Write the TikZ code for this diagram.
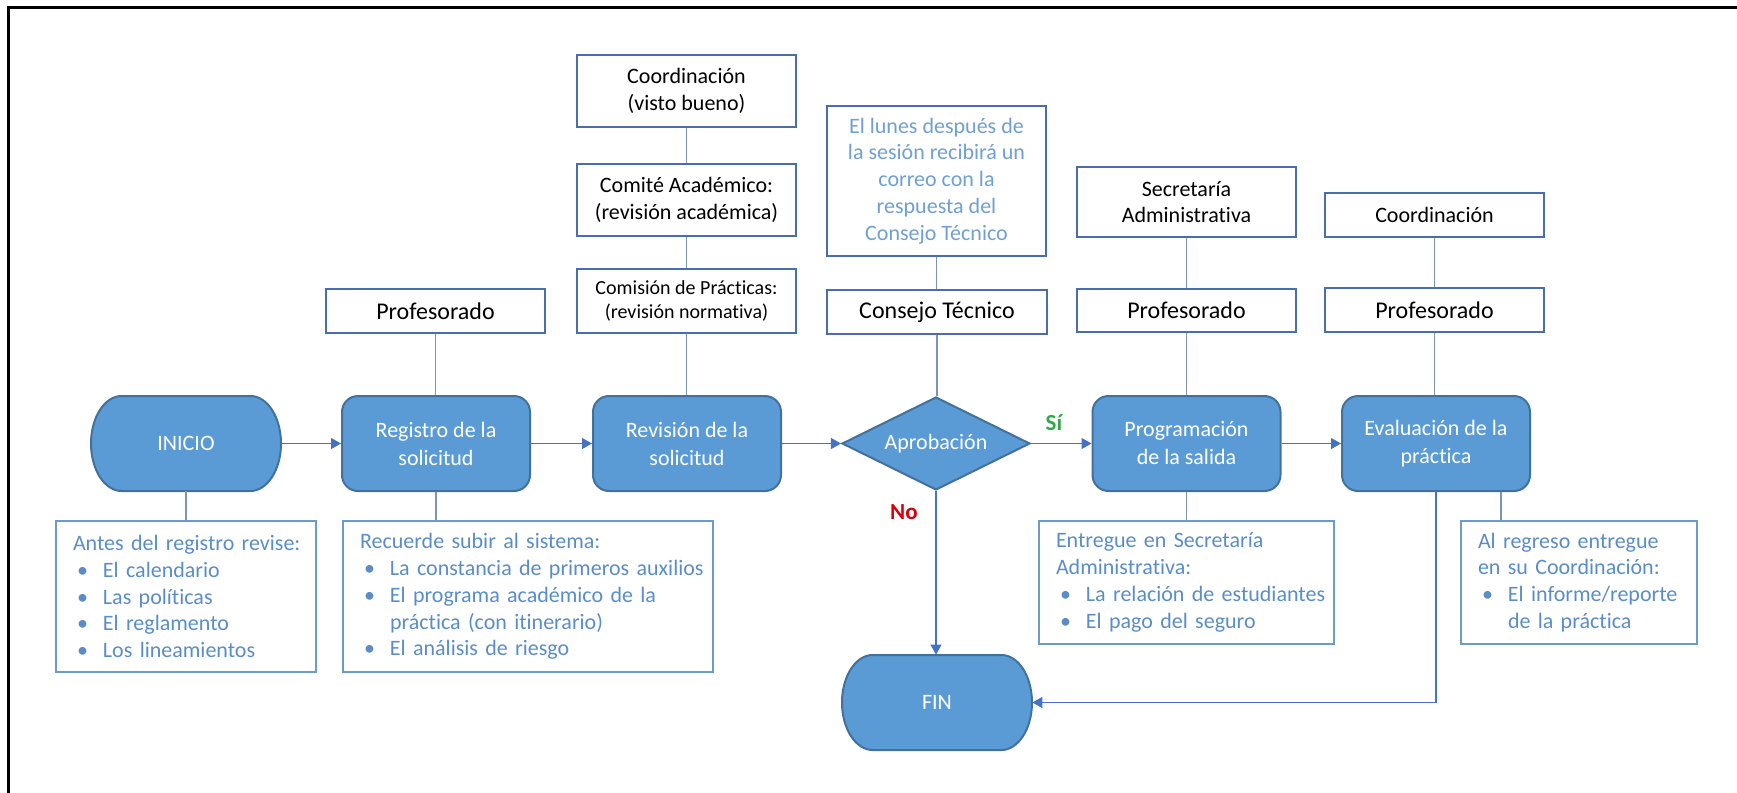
\documentclass[tikz,border=0pt]{standalone}
\usepackage{fontspec}
\setmainfont{Carlito}[Ligatures={NoCommon}]
\usetikzlibrary{shapes.geometric,arrows.meta,calc}
\definecolor{procfill}{HTML}{5B9BD5}
\definecolor{procborder}{HTML}{41719C}
\definecolor{lblborder}{HTML}{4A6DB0}
\definecolor{noteborder}{HTML}{6D9BC9}
\definecolor{notetext}{HTML}{5A8DC8}
\definecolor{lunestext}{HTML}{6FA0D3}
\definecolor{connc}{HTML}{7F93B3}
\definecolor{arrc}{HTML}{4472C4}
\definecolor{sigreen}{HTML}{33A84A}
\definecolor{nored}{HTML}{D9000D}
\newcommand{\bul}[1]{\mbox{\makebox[15pt][l]{\hspace{2pt}\textbullet}#1}}
\newcommand{\cont}[1]{\mbox{\hspace*{15pt}#1}}
\begin{document}
\begin{tikzpicture}[x=0.5pt,y=-0.5pt,
  base/.style={font=\fontsize{11}{13.4}\selectfont},
  lbl/.style={base, draw=lblborder, line width=1pt, fill=white, minimum width=109.5pt,
    align=center, text=black, inner sep=2pt},
  lblbig/.style={lbl, font=\fontsize{12}{14}\selectfont},
  proc/.style={base, draw=procborder, fill=procfill, rounded corners=8pt, line width=1pt,
    minimum width=94pt, minimum height=47.5pt, text=white, align=center,
    font=\fontsize{11}{14}\selectfont},
  term/.style={base, minimum width=95pt, minimum height=47.5pt, text=white, inner sep=0pt},
  termpath/.style={draw=procborder, fill=procfill, line width=1pt},
  dec/.style={base, diamond, aspect=2, draw=procborder, fill=procfill, line width=1pt,
    minimum width=94pt, minimum height=46.5pt, inner sep=0pt, text=white},
  note/.style={base, draw=noteborder, line width=1pt, text=notetext, align=left,
    inner xsep=8.5pt, inner ysep=2pt},
  conn/.style={draw=connc, line width=0.65pt},
  arr/.style={draw=arrc, line width=0.65pt, -{Triangle[length=5pt,width=5.5pt]}},
  lab/.style={font=\fontsize{11.5}{13}\selectfont\bfseries}
]
\path[use as bounding box] (0,0) rectangle (1737,793);
\draw[line width=1.5pt] (8.5,793) -- (8.5,7) -- (1737,7);

% top label boxes
\node[lbl, minimum height=36pt] (coordA) at (686.5,91) {Coordinación\\(visto bueno)};
\node[lbl, minimum height=36pt] (comite) at (686.5,200) {Comité Académico:\\(revisión académica)};
\node[lbl, minimum height=32pt, font=\fontsize{10}{11.6}\selectfont] (comision) at (686.5,301) {Comisión de Prácticas:\\(revisión normativa)};
\node[lblbig, minimum height=22pt] (prof1) at (435.5,311) {Profesorado};
\node[lbl, minimum height=75pt, text=lunestext] (lunes) at (936.5,181) {El lunes después de\\la sesión recibirá un\\correo con la\\respuesta del\\Consejo Técnico};
\node[lblbig, minimum height=22pt, minimum width=110pt] (consejo) at (937,312) {Consejo Técnico};
\node[lbl, minimum height=35pt] (secre) at (1186.5,202) {Secretaría\\Administrativa};
\node[lblbig, minimum height=21.5pt] (prof2) at (1186.5,310.5) {Profesorado};
\node[lbl, minimum height=22pt] (coordB) at (1434.5,215) {Coordinación};
\node[lblbig, minimum height=22pt] (prof3) at (1434.5,310) {Profesorado};

% terminator outlines (drawn first, text nodes on top)
\coordinate (inicioC) at (186,443.5);
\coordinate (finC) at (937,702.5);
\foreach \c in {inicioC,finC}{
  \path[termpath] ($(\c)+(-64.4,-47.5)$) -- ($(\c)+(64.4,-47.5)$)
    arc[start angle=90, end angle=-90, x radius=15.3pt, y radius=23.75pt]
    -- ($(\c)+(-64.4,47.5)$)
    arc[start angle=270, end angle=90, x radius=15.3pt, y radius=23.75pt] -- cycle;
}

% main row
\node[term] (inicio) at (inicioC) {INICIO};
\node[proc] (registro) at (436,443.5) {Registro de la\\solicitud};
\node[proc] (revision) at (687,443.5) {Revisión de la\\solicitud};
\node[dec] (aprob) at (936,443.5) {Aprobación};
\node[proc] (prog) at (1186.5,443.5) {Programación\\de la salida};
\node[proc] (eval) at (1436,443.5) {Evaluación de la\\práctica};
\node[term] (fin) at (finC) {FIN};

% notes
\node[note, text width=113pt, minimum height=75.5pt] (antes) at (186,596.5)
  {\mbox{Antes del registro revise:}\\\bul{El calendario}\\\bul{Las políticas}\\\bul{El reglamento}\\\bul{Los lineamientos}};
\node[note, text width=168pt, minimum height=75.5pt] (recuerde) at (528,596.5)
  {\mbox{Recuerde subir al sistema:}\\\bul{La constancia de primeros auxilios}\\\bul{El programa académico de la}\\\cont{práctica (con itinerario)}\\\bul{El análisis de riesgo}};
\node[note, text width=130.5pt, minimum height=61.5pt] (entregue) at (1186.5,582.5)
  {\mbox{Entregue en Secretaría}\\\mbox{Administrativa:}\\\bul{La relación de estudiantes}\\\bul{El pago del seguro}};
\node[note, text width=101pt, minimum height=61.5pt] (alregreso) at (1579,582.5)
  {\mbox{Al regreso entregue}\\\mbox{en su Coordinación:}\\\bul{El informe/reporte}\\\cont{de la práctica}};

% labels
\node[lab, text=sigreen] (si) at (1054,423) {Sí};
\node[lab, text=nored] (no) at (904,512) {No};

% plain connectors
\draw[conn] (coordA.south) -- (coordA.south |- comite.north);
\draw[conn] (comite.south) -- (comite.south |- comision.north);
\draw[conn] (comision.south) -- (comision.south |- revision.north);
\draw[conn] (prof1.south) -- (prof1.south |- registro.north);
\draw[conn] (lunes.south) -- (lunes.south |- consejo.north);
\draw[conn] (consejo.south) -- (consejo.south |- aprob.north);
\draw[conn] (secre.south) -- (secre.south |- prof2.north);
\draw[conn] (prof2.south) -- (prof2.south |- prog.north);
\draw[conn] (coordB.south) -- (coordB.south |- prof3.north);
\draw[conn] (prof3.south) -- (prof3.south |- eval.north);
\draw[conn] (inicio.south) -- (inicio.south |- antes.north);
\draw[conn] (registro.south) -- (registro.south |- recuerde.north);
\draw[conn] (prog.south) -- (prog.south |- entregue.north);
\coordinate (evr) at (1501,492);
\draw[conn] (evr) -- (evr |- alregreso.north);

% arrows
\draw[arr] (inicio.east) -- (registro);
\draw[arr] (registro) -- (revision);
\draw[arr] (revision) -- (aprob);
\draw[arr] (aprob) -- (prog);
\draw[arr] (prog) -- (eval);
\draw[arr] (aprob.south) -- (aprob.south |- fin.north);
\draw[arr] (eval.south) |- (fin.east);
\end{tikzpicture}
\end{document}
